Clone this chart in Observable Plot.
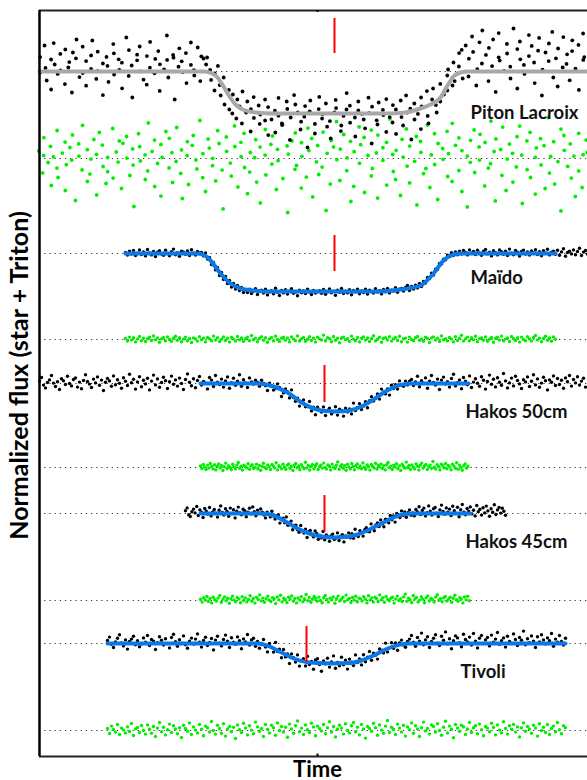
<!DOCTYPE html>
<html><head><meta charset="utf-8">
<script src="https://cdn.jsdelivr.net/npm/d3@7"></script>
<script src="https://cdn.jsdelivr.net/npm/@observablehq/plot@0.6"></script>
<style>body{margin:0;background:#fff}#chart svg{display:block}</style>
</head><body><div id="chart"></div>
<script>
// ---- data (time in s, flux deviations in per-mille of normalized flux) ----
const stations = ["Piton Lacroix", "Maïdo", "Hakos 50cm", "Hakos 45cm", "Tivoli"];
const baseline = [3.295, 2.385, 1.735, 1.085, 0.435];        // vertical offset of each light curve
const residualBaseline = [2.86, 1.955, 1.315, 0.65, 0];      // vertical offset of each residual series
const blackStart = [-139, -96, -139, -66, -105];
const blackStep = [1, 1, 1, 0.8, 1];
const greenStart = [-139, -96, -58.5, -58.5, -105];
const greenStep = [1, 1, 0.7, 0.8, 1];
// Piton Lacroix timing irregularities (tenths of a second)
const pitonTimeJitter = [3,-7,5,0,-4,8,-2,6,-9,1,4,-5,7,-1,9,-6,2,-3,5,-8,0,6,-4,3,-7,8,-2,-6,4,1,-9,7,-3,5,0,-5,9,2,-7,6,-1,3,-8,4,7,-4,1,-6,8,-2,5,-9,0,6,-3,2,-7,9,-5,4,1,-8,3,7,-2,-6,8,0,-4,5,-1,6,-9,2,-5,7,-3,4,-8,1,9,-6,0,3,-2,8,-7,5,-4,2,6,-9,1,-5,7,-1,4,-3,9,-6,0,5,-8,3,-1,7,-4,2,-9,6,1,-6,8,-2,4,-7,0,9,-3,5,-5,3,-8,6,-1,2,-4,9,-7,1,5,-2,8,-6,0,4,-9,7,-3,6,-1,3,-5,8,-8,2,-4,5,1,-7,9,-3,0,6,-5,3,-8,7,-1,4,-6,2,8,-9,5,-2,1,-7,6,0,-4,9,-3,4,-6,1,7,-5,3,-8,6,0,-2,9,-7,4,-1,5,-6,2,8,-3,-9,7,1,-5,3,-2,6,-8,4,-6,2,9,-1,-7,5,0,-4,8,-3,6,-9,1,7,-5,3,-2,9,-6,0,4,-8,2,5,-3,8,-7,1,6,-4,-9,3,7,-2,5,-6,0,9,-1,4,-8,2,-5,7,-3,1,6,-7,3,-2,5,-8,0,7,-4,9,-6,2,3,-9,6,-1,8,-5,1,4,-7,0,5,-3,9,-2,-6,7];
const pitonResidualTimeJitter = [-4,6,1,-8,3,9,-5,0,7,-2,-7,4,8,-1,-6,2,5,-9,0,6,-3,3,-5,9,-1,7,-8,2,5,-4,-1,8,-6,3,1,-9,6,-2,4,9,-7,0,-3,7,-5,2,8,-4,-8,5,1,-6,9,-2,4,-9,3,6,-5,0,7,-3,-7,2,8,-1,5,-8,3,-4,6,0,-6,9,-2,-5,4,-1,7,-8,2,6,-3,0,9,-7,5,-4,1,8,-9,3,-2,6,-6,4,-1,7,-5,2,8,-3,5,-7,0,4,-9,6,1,-4,3,-6,9,-2,-8,7,2,-5,4,0,-7,6,-3,8,1,-6,3,7,-1,-5,9,0,-8,4,2,-3,6,-9,5,1,-4,8,-7,3,-2,9,-6,0,5,-3,4,-8,1,6,-2,7,-5,3,-9,8,0,-4,5,-7,2,9,-1,-6,4,1,-8,7,-3,6,-5,2,9,-4,0,-7,5,3,-2,8,-6,1,-9,6,4,-3,7,-5,0,9,-8,2,-1,5,-4,3,-9,6,-2,8,1,-5,4,-7,0,7,-3,2,-8,9,-1,5,-6,3,-4,8,0,-7,6,-2,4,7,-5,3,-1,-8,6,2,-4,9,-7,0,5,-3,8,-6,1,4,-9,7,-2,3,-5,9,-1,-6,5,-2,8,-7,3,0,-4,6,-9,2,7,-3,4,-8,1,9,-6,2,-1,6,-4,8,-7,3,-2];

const pitonFlux = [-5,72,130,18,-45,-90,60,35,142,-12,88,5,-63,110,47,20,-105,95,160,66,-28,-8,124,52,-71,13,80,155,-37,2,99,-118,40,73,28,-52,137,91,-15,61,8,-84,44,170,107,-22,30,-130,56,84,1,125,-41,-66,77,19,148,63,-9,102,-97,36,11,180,58,-30,83,69,-140,24,116,-3,51,92,-58,145,33,-20,7,120,76,-48,65,
35,70,-42,8,-95,-10,28,-120,-68,-30,-165,-92,-190,-210,-115,-140,-235,-175,-100,-260,-205,-150,-188,-300,-232,-128,-170,-262,-215,-140,-245,-318,
-178,-240,-305,-196,-132,-221,-268,-259,-150,-187,-342,-230,-165,-118,-204,-290,-251,-173,-226,-380,-145,-199,-262,-310,-188,-127,-235,-213,-276,-160,-248,-335,-205,-142,-183,-270,-298,-222,-108,-190,-256,-171,-230,-325,-195,-150,-212,-284,-240,-131,-208,-360,-176,-244,-265,-155,-218,-192,-302,-138,-228,
-168,-255,-312,-190,-145,-228,-270,-205,-120,-186,-340,-240,-160,-212,-130,-288,-175,-98,-222,-260,-140,-85,-205,-168,-62,-150,-115,-20,-95,10,-70,45,-48,92,25,-35,108,
130,64,-25,175,98,12,-70,146,205,40,83,-48,118,160,27,-102,71,192,55,3,138,90,-35,24,215,112,-85,61,150,33,-12,182,77,128,-58,45,104,168,9,-120,95,140,52,-30,198,66,115,-75,20,172,86,38,-44,156,102,14,133,-92,58,190,72,121];
const pitonResidual = [38,-72,15,104,-20,-135,61,8,-48,140,-95,27,82,-160,-31,55,118,-8,-210,73,12,-57,166,-115,44,-3,-78,95,21,-182,130,-40,67,-125,-66,5,150,-98,33,88,-18,-150,76,2,110,-85,-33,48,-240,124,59,-12,-105,18,178,-62,35,-140,92,-25,70,-188,6,135,-47,101,-120,29,-15,155,-74,43,-200,84,14,-130,66,115,-52,-7,190,-96,24,-165,52,97,-36,1,-112,75,139,-58,-252,36,108,-23,-88,60,163,-142,9,81,-45,126,-176,30,-68,4,94,-118,57,-222,145,17,-82,71,-28,113,-155,46,-11,170,-100,63,-270,22,88,-54,128,-35,-148,79,11,-93,152,40,-192,100,-17,65,-80,132,-43,-260,26,90,-128,58,184,-6,47,-110,120,-61,3,-215,86,34,-139,158,-24,69,-170,105,15,-87,142,-50,28,-198,117,-9,54,-133,81,198,-65,20,-105,41,-185,96,7,-38,148,-122,62,-14,110,-232,31,85,-76,167,-50,-145,18,124,-30,75,-205,50,-4,136,-90,24,176,-115,66,-60,103,-165,39,12,-242,91,-19,143,-70,58,-8,121,-137,80,-48,187,-26,35,-212,98,45,-84,157,-3,-160,72,26,-118,109,-42,162,-225,17,88,-56,131,-95,6,-178,53,99,-32,-150,64,205,-73,10,-128,84,-16,147,-262,41,115,-39,-98,73,12,-190,126,-62,19,-145,92,30];

const maidoFlux = [5,-8,12,-3,15,-10,2,18,-5,8,-12,20,3,-7,10,-15,6,14,-2,-9,16,0,-11,9,22,-6,4,-14,11,7,-4,13,-10,19,1,-8,10,3,
5,-12,3,-28,-20,-55,-45,-82,-70,-110,-95,-130,-115,-150,-135,-168,-150,-178,-160,-185,-170,-195,
-182,-195,-178,-200,-188,-176,-205,-190,-184,-198,-179,-207,-192,-186,-201,-174,-194,-210,-185,-197,-181,-203,-189,-176,-199,-192,-211,-183,-196,-187,-200,-178,-193,-205,-185,-198,-190,
-186,-199,-180,-204,-191,-177,-196,-188,-209,-183,-194,-175,-200,-189,-197,-181,-206,-185,-192,-178,-201,-187,-195,-179,-203,-184,-190,-198,-176,-193,-186,-202,-180,-191,-175,-197,-183,-188,-171,-194,-179,
-175,-188,-170,-160,-185,-165,-178,-158,-172,-150,-165,-140,-148,-120,-125,-98,-108,-78,-80,-50,-52,-28,-32,-8,-15,4,-10,8,-6,12,-3,15,5,-7,18,2,
10,-5,16,3,-9,12,20,-2,7,-12,14,4,-7,18,9,-4,11,-10,22,1,-6,15,6,-13,10,17,-3,8,-8,13,3,19,-5,9,-11,14,2,21,-7,6,12,-4,16,-9,8,24,-14,5,11,-2,18,-6,10,26,-10,7,15,-3];
const maidoResidual = [5,-8,12,-3,9,-12,2,15,-6,7,-10,4,11,-5,18,-2,8,-14,3,10,-7,13,0,-9,6,16,-4,9,-11,2,12,-6,5,-15,8,3,-8,14,-1,7,-12,10,4,-6,17,-3,9,-10,1,13,-5,6,-13,11,2,-8,15,-2,8,-9,4,12,-6,20,-1,7,-11,5,14,-4,9,-14,3,10,-7,16,0,-10,6,11,-3,8,-12,13,2,-6,18,-8,4,10,-9,1,14,-5,7,-13,11,3,-2,22,-7,9,5,-11,15,-4,6,-16,8,12,-1,4,-9,17,2,-6,10,-12,7,13,-3,8,-10,5,19,-7,1,11,-14,6,9,-2,14,-8,3,10,-5,16,-11,4,7,-13,12,0,-6,9,15,-4,2,-9,11,5,-15,8,13,-3,6,-10,18,-1,4,-7,10,2,-12,14,-5,7,21,-8,3,12,-6,9,-1,16,-11,5,8,-4,13,-9,1,10,-14,6,11,-3,17,-7,2,8,-10,15,4,-5,9,-13,12,0,-6,14,3,-8,10,20,-2,7,-11,5,16,-4,8,-9,13,1];

const hakos50Flux = [12,30,-8,-22,5,18,40,2,-15,9,-30,24,14,-5,36,0,-12,20,28,-18,7,-26,15,44,10,-3,-20,22,3,33,-9,17,-35,6,25,13,-14,38,-6,19,1,-24,29,11,-10,46,4,21,-28,8,34,-16,16,-2,26,-32,12,42,-7,23,-19,5,31,14,-25,9,37,-4,18,-13,27,0,-30,20,48,6,-11,24,-21,15,35,-8,10,2,-27,30,17,-15,40,7,-5,22,-18,13,33,-24,4,26,-9,11,44,-14,19,3,-20,28,8,-3,16,
5,-14,16,2,-11,-35,2,-12,-33,-25,-2,-20,-65,-47,-27,-41,-72,-32,-70,-89,-73,-113,-92,-82,-116,-115,-90,-137,-118,-156,-119,-133,-143,-117,-160,-133,-123,-152,-142,-116,-158,-129,-135,-163,-123,-142,-127,-152,-98,-135,-120,-101,-130,-113,-91,-121,-86,-66,-88,-75,-52,-78,-28,-42,-52,-27,-58,-9,-25,-6,-28,13,-6,-14,12,-7,12,
20,-10,8,36,-16,14,2,28,-24,11,40,5,-8,22,-30,17,32,-3,9,-18,25,46,-12,4,18,-26,30,12,-6,38,-20,7,24,1,-14,34,16,-28,10,42,-4,21,-17,29,6,-9,50,13,-22,3,27,-12,36,15,-2,-25,19,8,33,-15,11,44,-7,23,-19,2,31,14,-32,18,6,38,-10,25,-5,16,-24,28,9,40,-13,20,3,34,-8,12,26,-18];
const hakos50Residual = [8,-5,15,2,-10,12,-3,20,5,-8,14,-12,6,18,-2,10,-15,4,22,-6,9,0,-11,16,3,-7,12,25,-4,7,-13,11,5,-2,19,-9,8,14,-5,2,17,-8,10,-14,6,21,0,-6,13,4,-10,15,7,-3,24,-12,9,3,-7,16,1,-9,12,18,-4,6,-15,11,20,-1,8,-11,14,3,-6,26,-2,10,-13,5,15,-7,9,19,-10,4,12,-3,22,0,-8,13,6,-12,17,2,-5,11,28,-9,7,14,-4,9,-14,16,3,-7,20,5,-11,10,18,-2,8,-6,23,1,-9,13,4,-13,15,6,-3,21,-8,11,2,17,-5,9,-12,14,25,-1,7,-10,12,3,19,-6,8,-15,16,5,-4,27,0,10,-9,13,2,-7,18,6,-13,11,22,-3,8,15,-10,4,12,-5,30,1,-8,14,5,-12,17,9,-2,20,-6,10,3,-11,16,7,-4,24,-9,12,0,-14,9,18,-3,6];

const hakos45Flux = [14,28,-6,-15,9,22,3,35,-10,18,6,-20,25,12,-3,30,-12,8,20,2,-18,16,38,5,-8,24,10,-14,27,0,19,-22,11,32,4,-6,21,14,-16,7,26,-2,33,9,-11,17,3,23,
7,-7,-22,7,-3,-17,11,-12,-28,-12,-7,-48,-29,-24,-46,-17,-59,-55,-38,-81,-61,-58,-81,-94,-60,-85,-98,-78,-120,-91,-85,-107,-117,-87,-100,-129,-110,-122,-90,-131,-107,-116,-139,-111,-103,-130,-123,-97,-135,-114,-106,-142,-112,-118,-97,-121,-101,-124,-79,-110,-115,-86,-95,-113,-81,-71,-89,-91,-52,-72,-86,-57,-47,-65,-32,-51,-66,-29,-32,-46,-10,-31,-12,-43,0,-11,-20,13,-10,8,-19,4,18,-9,3,-12,
20,8,34,-5,15,27,-12,4,38,12,-8,24,30,2,-15,18,42,10,-4,28,6,22,-10,36,14,0,31,-16,19,45,7,-6,25,12,33,-2,16,-12,40,9,21,-8,29,3,37,13,-14,24,6,44,-5,18,30,2,26,11,-9];
const hakos45Residual = [6,-8,14,2,20,-5,10,-12,16,4,-3,12,25,-9,7,18,-1,11,-14,9,22,3,-6,15,8,-11,19,0,13,-7,5,24,-4,10,-13,17,6,28,-2,12,-9,8,21,1,-5,14,9,-15,18,3,26,-7,11,4,-10,16,7,23,-3,10,-12,13,2,19,-6,8,30,-1,15,-9,6,20,11,-4,17,0,-11,14,25,5,-8,12,3,18,-14,9,22,-2,7,16,-5,27,4,10,-10,15,1,21,-7,12,8,-3,19,6,-12,24,2,13,-8,17,10,-6,28,3,14,-9,20,5,-1,11,16,-13,7,22,0,9,-5,18,32,-4,12,4,-10,25,8,15,-7,2,19,6,-11,14,23,-2,10,5,-8,17,29,1,9,-6,13,20,-3,7,16,-9,11,26,4,-4,14,8,-12,18,3,21,-1];

const tivoliFlux = [15,32,-4,-20,8,26,44,3,-12,18,-28,10,22,36,-6,14,-16,-2,28,6,40,-10,20,12,-30,4,34,16,-8,24,0,-22,30,46,9,-14,19,2,38,-6,-24,12,27,-3,22,48,7,-18,15,31,-10,5,25,-32,17,36,1,-12,20,42,11,-20,29,6,-4,33,14,-26,23,8,45,-8,18,26,-14,
10,-24,0,20,-18,-42,0,-18,-43,5,-40,-28,-71,-30,-67,-52,-100,-52,-71,-93,-57,-113,-88,-76,-112,-64,-105,-90,-129,-82,-76,-105,-139,-87,-102,-74,-118,-92,-62,-124,-95,-111,-69,-106,-83,-128,-78,-94,-110,-57,-95,-77,-107,-56,-91,-68,-40,-84,-48,-59,-78,-27,-34,-47,2,-42,-22,4,-24,3,-34,3,17,-8,-19,10,
22,40,6,-14,30,12,52,-6,18,34,-20,10,26,44,2,-10,36,16,58,-2,24,-26,14,38,28,4,-16,46,20,8,32,-8,50,12,-22,26,40,0,18,30,-12,42,6,22,55,-4,14,28,-18,36,10,2,48,20,-10,30,16,62,-6,24,4,38,12,-20,34,8,44,18,-2,28,14,50,-14,22,6,40,10,-8,26];
const tivoliResidual = [10,-15,22,5,-8,30,-20,12,2,-12,18,-5,35,-25,8,15,-10,25,0,-18,28,6,-14,20,-30,12,40,-6,16,-22,4,32,-10,24,8,-16,14,-35,26,10,-4,38,-20,18,2,-12,30,6,-26,22,14,-8,45,0,-18,26,10,-14,34,-28,8,20,-6,16,-40,28,4,-10,36,12,-22,24,2,-16,42,18,-4,10,-30,30,6,-12,26,14,-24,38,0,20,-8,16,-34,32,8,-14,24,48,-6,12,-20,28,4,-10,36,18,-26,22,10,-2,30,-16,14,44,-8,20,-32,6,26,12,-18,34,0,-12,24,40,-6,16,-22,30,8,-38,20,10,-4,36,14,-24,28,2,-14,22,50,-10,16,6,-20,32,12,-8,26,-28,18,4,38,-14,24,8,-30,14,42,-2,10,-18,28,20,-8,34,0,-24,16,46,-12,22,6,-36,30,12,-4,26,18,-20,8,40,-10,14,24,-16,32,4,-26,20,12,-6,36,16,-22,28,2,-12,44,10,-18,24,6,30,-8,18,-32,14,38,-4,20,8,-14,26,12,-28,34,0,16,-10,30,-20,10,22,-6,40,4,-16,24,14];

// fitted model knots (time s, deviation per-mille)
const fitT = [
  [-139,-57,-53,-50,-47,-44,-41,-38,-34,-28,-20,36,43,50,56,61.5,65,68,71.5,75,135],
  [-96,-60,-56,-53.5,-48.5,-43.5,-38.5,-32,-25,30,41.5,51.5,58,63,68,71.5,119],
  [-58.5,-30,-22,-15,-8,-2,4,10,16,22,28,34,40,46,75.5],
  [-58.5,-28,-22,-16,-10,-4,2,8,14,20,26,32,38,44,48,76.5],
  [-105,-30,-24,-18,-12,-6,0,8,16,22,28,34,40,46,124]
];
const fitDev = [
  [0,0,-8,-30,-75,-125,-165,-187,-200,-207,-210,-210,-206,-190,-168,-130,-70,-25,-5,0,0],
  [0,0,-12,-35,-100,-150,-175,-185,-190,-190,-180,-160,-100,-35,-5,0,0],
  [0,0,-15,-45,-95,-125,-138,-140,-135,-115,-80,-40,-12,0,0],
  [0,0,-10,-40,-75,-100,-115,-120,-118,-105,-80,-50,-20,-3,0,0],
  [0,0,-15,-45,-75,-92,-98,-100,-98,-85,-60,-30,-8,0,0]
];
// mid-time markers (time s, top / bottom deviation per-mille)
const markT = [8.5, 8.5, 3.5, 3.5, -5.5];
const markTop = [265, 90, 90, 90, 85];
const markBottom = [90, -90, -95, -95, -95];

const blackFlux = [pitonFlux, maidoFlux, hakos50Flux, hakos45Flux, tivoliFlux];
const greenFlux = [pitonResidual, maidoResidual, hakos50Residual, hakos45Residual, tivoliResidual];
const blackJitter = [pitonTimeJitter, null, null, null, null];
const greenJitter = [pitonResidualTimeJitter, null, null, null, null];
const xDomain = [-139, 135];
const yDomain = [-0.13, 3.6];

// ---- build tables ----
const black = [], green = [], fits = [], marks = [], labels = [];
const labelAt = [[76.5, -235], [76.5, -150], [74, -170], [74, -170], [71.5, -170]];
stations.forEach((s, k) => {
  const r = k === 0 ? 1.9 : 1.7;
  blackFlux[k].forEach((v, i) => black.push({s, r, t: blackStart[k] + i * blackStep[k] + (blackJitter[k] ? blackJitter[k][i] / 10 : 0), f: baseline[k] + v / 1000}));
  greenFlux[k].forEach((v, i) => green.push({s, r, t: greenStart[k] + i * greenStep[k] + (greenJitter[k] ? greenJitter[k][i] / 10 : 0), f: residualBaseline[k] + v / 1000}));
  fitT[k].forEach((t, i) => fits.push({s, t, f: baseline[k] + fitDev[k][i] / 1000, gray: k === 0}));
  marks.push({t: markT[k], y1: baseline[k] + markTop[k] / 1000, y2: baseline[k] + markBottom[k] / 1000});
  labels.push({s, t: labelAt[k][0], f: baseline[k] + labelAt[k][1] / 1000});
});
const dotted = baseline.concat(residualBaseline);

const chart = Plot.plot({
  width: 587, height: 780,
  marginLeft: 39, marginRight: 0, marginTop: 10, marginBottom: 24,
  style: {background: "white", fontFamily: "Lato, sans-serif"},
  x: {type: "linear", domain: xDomain, axis: null},
  y: {type: "linear", domain: yDomain, axis: null},
  r: {type: "identity"},
  marks: [
    Plot.ruleY(dotted, {stroke: "#333", strokeWidth: 1.2, strokeDasharray: "1.2,4"}),
    Plot.dot(green, {x: "t", y: "f", r: "r", fill: "#00ee00", stroke: null}),
    Plot.dot(black, {x: "t", y: "f", r: "r", fill: "#000", stroke: null}),
    Plot.line(fits.filter(d => d.gray), {x: "t", y: "f", z: "s", stroke: "#a8a8a8", strokeWidth: 4, curve: "monotone-x"}),
    Plot.line(fits.filter(d => !d.gray), {x: "t", y: "f", z: "s", stroke: "#0a78e6", strokeWidth: 4, curve: "monotone-x"}),
    Plot.ruleX(marks, {x: "t", y1: "y1", y2: "y2", stroke: "#ff0000", strokeWidth: 2}),
    Plot.text(labels, {x: "t", y: "f", text: "s", textAnchor: "start", lineAnchor: "bottom", fontSize: 18.5, fontWeight: "bold", fill: "#111"}),
    Plot.ruleY([yDomain[1], yDomain[0]], {stroke: "#222", strokeWidth: 2}),
    Plot.ruleX([xDomain[0]], {stroke: "#000", strokeWidth: 2.5}),
    Plot.ruleX([0], {y1: yDomain[0], y2: yDomain[0] + 0.012, stroke: "#000", strokeWidth: 2}),
    Plot.ruleX([0], {y1: yDomain[1], y2: yDomain[1] - 0.01, stroke: "#000", strokeWidth: 2}),
    Plot.text(["Normalized flux (star + Triton)"], {frameAnchor: "left", rotate: -90, dx: -20, dy: -8, textAnchor: "middle", text: d => d, fontSize: 25, fontWeight: "bold", fill: "#000"}),
    Plot.text(["Time"], {frameAnchor: "bottom", dy: 20, dx: 4, lineAnchor: "bottom", text: d => d, fontSize: 22, fontWeight: "bold", fill: "#000"})
  ]
});
document.getElementById("chart").append(chart);
</script>
</body></html>
